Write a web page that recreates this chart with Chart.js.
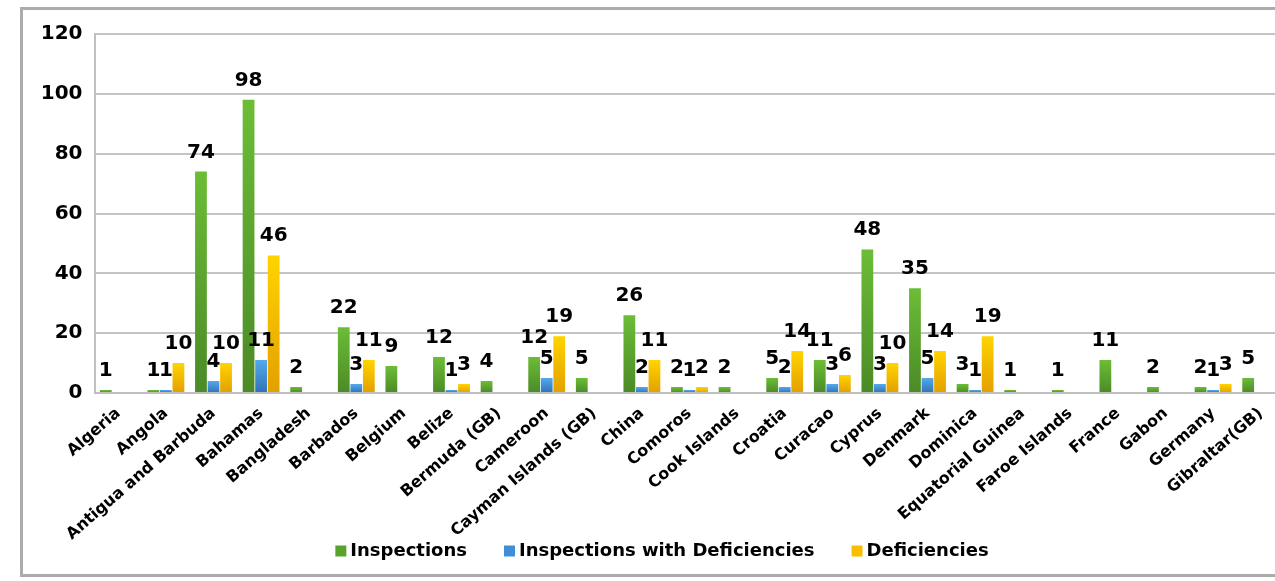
<!DOCTYPE html>
<html><head><meta charset="utf-8">
<script src="https://cdn.jsdelivr.net/npm/chart.js@4/dist/chart.umd.min.js"></script>
<style>
html,body{margin:0;padding:0;background:#fff;overflow:hidden;width:1275px;height:581px;}
#frame{position:absolute;left:20px;top:7px;width:1290px;height:564px;border:3px solid #ababab;background:#fff;}
canvas{display:block}
</style></head><body>
<div id="frame"><canvas id="c" width="1275" height="564" style="width:1275px;height:564px"></canvas></div>
<script>
const categories = ["Algeria","Angola","Antigua and Barbuda","Bahamas","Bangladesh","Barbados","Belgium","Belize","Bermuda (GB)","Cameroon","Cayman Islands (GB)","China","Comoros","Cook Islands","Croatia","Curacao","Cyprus","Denmark","Dominica","Equatorial Guinea","Faroe Islands","France","Gabon","Germany","Gibraltar(GB)"];
const inspections = [1,1,74,98,2,22,9,12,4,12,5,26,2,2,5,11,48,35,3,1,1,11,2,2,5];
const inspectionsWithDeficiencies = [null,1,4,11,null,3,null,1,null,5,null,2,1,null,2,3,3,5,1,null,null,null,null,1,null];
const deficiencies = [null,10,10,46,null,11,null,3,null,19,null,11,2,null,14,6,10,14,19,null,null,null,null,3,null];
const seriesNames = ["Inspections","Inspections with Deficiencies","Deficiencies"];
const yTicks = [0,20,40,60,80,100,120];

const FONT = "'DejaVu Sans', Verdana, sans-serif";
const palette = [
  {top:'#6cbd36', bottom:'#4b8a27', solid:'#5aa22e'},
  {top:'#55a8ec', bottom:'#2f72b6', solid:'#3f8fd8'},
  {top:'#ffd400', bottom:'#e39f00', solid:'#f7bf00'}
];

function barGradient(idx){
  return function(ctx){
    const chart = ctx.chart;
    const ys = chart.scales && chart.scales.y;
    const p = palette[idx];
    if (!ys || !chart.chartArea || ctx.raw == null) return p.solid;
    const top = ys.getPixelForValue(ctx.raw);
    const base = ys.getPixelForValue(0);
    if (!isFinite(top) || !isFinite(base) || base - top < 1) return p.solid;
    const g = chart.ctx.createLinearGradient(0, top, 0, base);
    g.addColorStop(0, p.top);
    g.addColorStop(1, p.bottom);
    return g;
  };
}

const dataLabels = {
  id:'dataLabels',
  afterDatasetsDraw(chart){
    const c = chart.ctx;
    c.save();
    c.font = "bold 20px " + FONT;
    c.fillStyle = '#000';
    c.textAlign = 'center';
    c.textBaseline = 'alphabetic';
    chart.data.datasets.forEach((ds, i) => {
      const meta = chart.getDatasetMeta(i);
      meta.data.forEach((bar, j) => {
        const v = ds.data[j];
        if (v == null) return;
        c.fillText(String(v), bar.x, bar.y - 14);
      });
    });
    c.restore();
  }
};

const customLegend = {
  id:'customLegend',
  afterDraw(chart){
    const c = chart.ctx;
    c.save();
    c.font = "bold 18px " + FONT;
    c.textBaseline = 'middle';
    c.textAlign = 'left';
    const box = 11, gapText = 4, gapItem = 37;
    const widths = seriesNames.map(n => c.measureText(n).width);
    let total = 0;
    widths.forEach((w, i) => { total += box + gapText + w + (i < widths.length - 1 ? gapItem : 0); });
    let x = 639 - total / 2;
    const y = 541;
    seriesNames.forEach((n, i) => {
      c.fillStyle = palette[i].solid;
      c.fillRect(x, y - box / 2, box, box);
      x += box + gapText;
      c.fillStyle = '#000';
      c.fillText(n, x, y);
      x += widths[i] + gapItem;
    });
    c.restore();
  }
};

new Chart(document.getElementById('c'), {
  type:'bar',
  data:{
    labels: categories,
    datasets:[
      {label:seriesNames[0], data:inspections, backgroundColor:barGradient(0)},
      {label:seriesNames[1], data:inspectionsWithDeficiencies, backgroundColor:barGradient(1)},
      {label:seriesNames[2], data:deficiencies, backgroundColor:barGradient(2)}
    ]
  },
  options:{
    responsive:false,
    animation:false,
    devicePixelRatio:1,
    datasets:{bar:{categoryPercentage:0.79, barPercentage:0.94}},
    layout:{padding:{top:23, right:13.5, left:0, bottom:0}},
    plugins:{legend:{display:false}, tooltip:{enabled:false}},
    scales:{
      x:{
        grid:{display:false, drawTicks:false},
        border:{display:true, color:'#c0c0c0', width:2},
        ticks:{autoSkip:false, maxRotation:41, minRotation:41, padding:11, color:'#000', font:{family:FONT, size:16, weight:'bold'}},
        afterFit(scale){ scale.height = 181; }
      },
      y:{
        min:0, max:120,
        afterBuildTicks(scale){ scale.ticks = yTicks.map(v => ({value:v})); },
        grid:{color:'#c4c4c4', lineWidth:2, drawTicks:false},
        border:{display:true, color:'#c0c0c0', width:2},
        ticks:{padding:12, color:'#000', font:{family:FONT, size:20, weight:'bold'}},
        afterFit(scale){ scale.width = 71.5; }
      }
    }
  },
  plugins:[dataLabels, customLegend]
});
</script>
</body></html>
